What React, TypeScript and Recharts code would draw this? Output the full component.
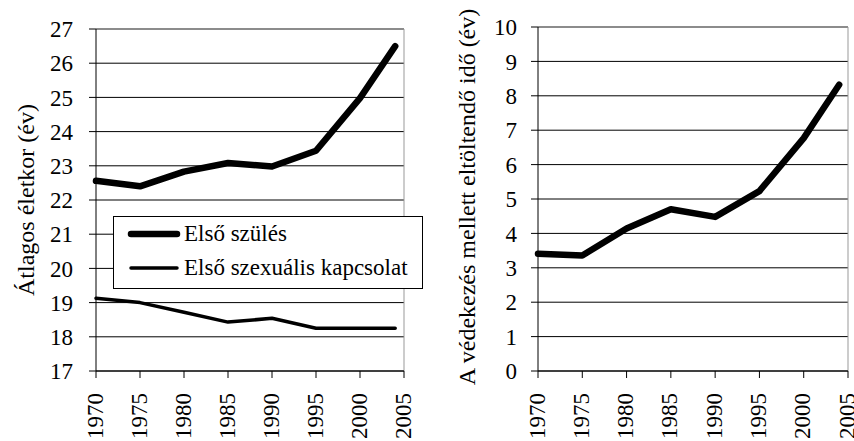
import React from "react";
import { LineChart, Line, XAxis, YAxis, CartesianGrid, ReferenceLine, Legend } from "recharts";

const FONT = '"Liberation Serif", serif';

// survey years (last point is 2004)
const years = [1970, 1975, 1980, 1985, 1990, 1995, 2000, 2004];
const yearTicks = [1970, 1975, 1980, 1985, 1990, 1995, 2000, 2005];

// left panel: average age (years)
const seriesNames = ["Első szülés", "Első szexuális kapcsolat"];
const firstBirth = [22.56, 22.4, 22.83, 23.08, 22.98, 23.44, 24.98, 26.5];
const firstSex = [19.13, 19.0, 18.72, 18.43, 18.54, 18.25, 18.25, 18.25];
const ageTicks = [17, 18, 19, 20, 21, 22, 23, 24, 25, 26, 27];

// right panel: time spent with contraception (years)
const protectedTime = [3.41, 3.36, 4.14, 4.7, 4.48, 5.23, 6.77, 8.32];
const gapTicks = [0, 1, 2, 3, 4, 5, 6, 7, 8, 9, 10];

const ageData = years.map((year, i) => ({ year, birth: firstBirth[i], sex: firstSex[i] }));
const gapData = years.map((year, i) => ({ year, gap: protectedTime[i] }));

function YearTick({ x, y, payload }: any) {
  return (
    <text
      x={x - 1}
      y={y}
      transform={`rotate(-90 ${x - 1} ${y})`}
      textAnchor="end"
      dominantBaseline="central"
      fontSize={23}
      fontFamily={FONT}
      fill="#000"
    >
      {payload.value}
    </text>
  );
}

function axisTitle(text: string, dx: number, dy: number) {
  return (props: any) => {
    const vb = props.viewBox || { x: 0, y: 0, width: 0, height: 0 };
    const cx = vb.x + dx;
    const cy = vb.y + vb.height / 2 + dy;
    return (
      <text
        x={cx}
        y={cy}
        transform={`rotate(-90 ${cx} ${cy})`}
        textAnchor="middle"
        dominantBaseline="central"
        fontSize={24}
        fontFamily={FONT}
        fill="#000"
      >
        {text}
      </text>
    );
  };
}

function LegendBox({ payload }: any) {
  const items = [...(payload || [])].sort(
    (a: any, b: any) => seriesNames.indexOf(a.value) - seriesNames.indexOf(b.value)
  );
  return (
    <div
      style={{
        position: "relative",
        width: 310,
        height: 73,
        boxSizing: "border-box",
        border: "1px solid #000",
        background: "#fff",
        fontFamily: FONT,
        fontSize: 23,
        color: "#000",
      }}
    >
      {items.map((entry: any, i: number) => {
        const sw = entry.payload?.strokeWidth ?? 4;
        return (
          <div
            key={entry.value}
            style={{ position: "absolute", left: 0, top: i === 0 ? 0 : 34, height: 34, display: "flex", alignItems: "center", whiteSpace: "nowrap" }}
          >
            <svg width={70} height={20} style={{ display: "block" }}>
              <line x1={17} y1={10} x2={63} y2={10} stroke="#000" strokeWidth={sw} strokeLinecap="round" />
            </svg>
            <span style={{ lineHeight: "34px", fontFamily: FONT }}>{entry.value}</span>
          </div>
        );
      })}
    </div>
  );
}

export default function App() {
  const tickStyle = { fill: "#000", fontSize: 23, fontFamily: FONT };
  return (
    <div style={{ position: "absolute", left: 0, top: 0, width: 854, height: 441, background: "#fff", fontFamily: FONT }}>
      <div style={{ position: "absolute", left: 0, top: 0 }}>
        <LineChart width={430} height={441} data={ageData} margin={{ top: 29, right: 26, bottom: 0, left: 0 }}>
          <CartesianGrid vertical={false} stroke="#000" />
          <ReferenceLine y={27} stroke="#999" />
          <ReferenceLine x={2005} stroke="#999" />
          <XAxis
            dataKey="year"
            type="number"
            domain={[1970, 2005]}
            ticks={yearTicks}
            interval={0}
            height={70}
            tickSize={7}
            tickMargin={15}
            stroke="#000"
            tick={<YearTick />}
          />
          <YAxis
            domain={[17, 27]}
            ticks={ageTicks}
            interval={0}
            width={96}
            tickSize={7}
            tickMargin={16}
            stroke="#000"
            tick={tickStyle}
            label={axisTitle("Átlagos életkor (év)", 26, 0)}
          />
          <Legend
            layout="horizontal"
            verticalAlign="middle"
            align="center"
            wrapperStyle={{ left: 113, top: 216, width: 310, height: 73 }}
            content={<LegendBox />}
          />
          <Line
            name={seriesNames[0]}
            dataKey="birth"
            stroke="#000"
            strokeWidth={6.5}
            strokeLinejoin="round"
            strokeLinecap="round"
            dot={false}
            activeDot={false}
            isAnimationActive={false}
          />
          <Line
            name={seriesNames[1]}
            dataKey="sex"
            stroke="#000"
            strokeWidth={3.5}
            strokeLinejoin="round"
            strokeLinecap="round"
            dot={false}
            activeDot={false}
            isAnimationActive={false}
          />
        </LineChart>
      </div>
      <div style={{ position: "absolute", left: 430, top: 0 }}>
        <LineChart width={424} height={441} data={gapData} margin={{ top: 27, right: 6, bottom: 0, left: 0 }}>
          <CartesianGrid vertical={false} stroke="#000" />
          <ReferenceLine y={10} stroke="#999" />
          <ReferenceLine x={2005} stroke="#999" />
          <XAxis
            dataKey="year"
            type="number"
            domain={[1970, 2005]}
            ticks={yearTicks}
            interval={0}
            height={70}
            tickSize={7}
            tickMargin={15}
            stroke="#000"
            tick={<YearTick />}
          />
          <YAxis
            domain={[0, 10]}
            ticks={gapTicks}
            interval={0}
            width={108}
            tickSize={7}
            tickMargin={14}
            stroke="#000"
            tick={tickStyle}
            label={axisTitle("A védekezés mellett eltöltendő idő (év)", 37, -2)}
          />
          <Line
            dataKey="gap"
            stroke="#000"
            strokeWidth={6.5}
            strokeLinejoin="round"
            strokeLinecap="round"
            dot={false}
            activeDot={false}
            isAnimationActive={false}
          />
        </LineChart>
      </div>
    </div>
  );
}
